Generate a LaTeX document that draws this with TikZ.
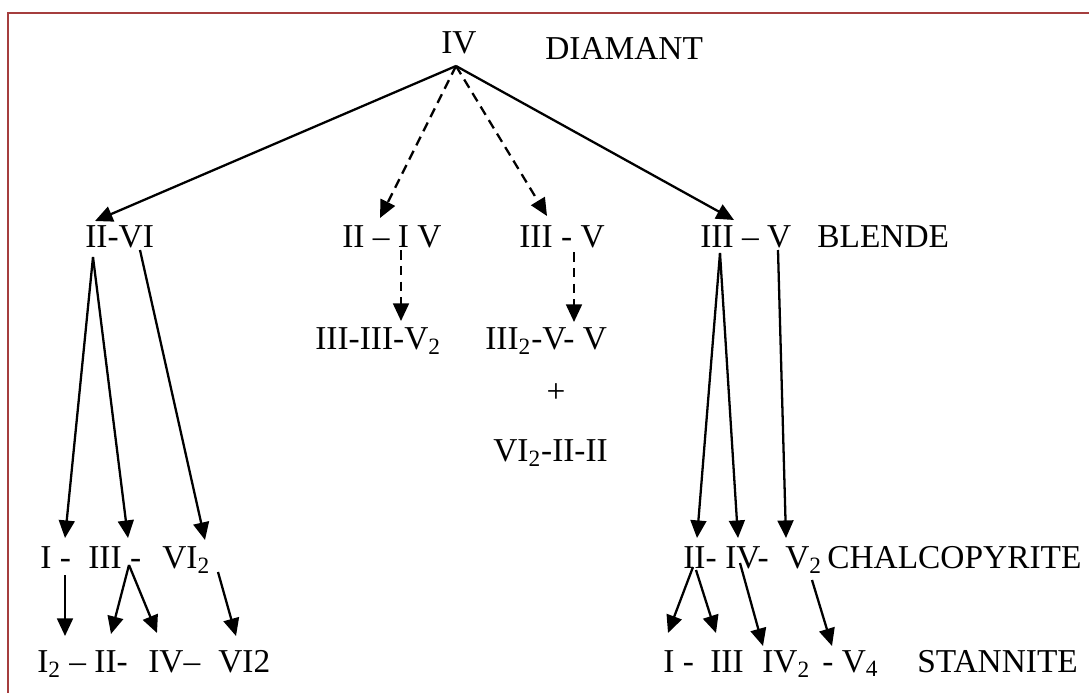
\documentclass[tikz,border=0pt]{standalone}
\usepackage{fontspec}
\setmainfont{Liberation Serif}
\usetikzlibrary{arrows.meta}
\definecolor{framered}{RGB}{165,62,62}
\tikzset{
  lbl/.style={anchor=base west, inner sep=0pt, font=\fontsize{19}{22}\selectfont},
  arr/.style={line width=1.3pt, -{Triangle[length=10pt,width=9pt]}},
  darr/.style={arr, dash pattern=on 5.5pt off 3.5pt}
}
\begin{document}
\begin{tikzpicture}[x=0.02cm, y=-0.02cm]
        \useasboundingbox (0,0) rectangle (1089,693);
        \draw[framered, line width=1.7pt] (8,693) -- (8,13) -- (1089,13);   % frame

        \node[lbl] (iv) at (441,53) {IV};
        \node[lbl] (dia) at (545,59) {DIAMANT};

        \node[lbl] (twosix) at (85,247) {II-VI};
        \node[lbl] (twoone) at (342,247) {II -- I V};
        \node[lbl] (threefive) at (519,247) {III - V};
        \node[lbl] (tfive) at (700,247) {III -- V};
        \node[lbl] (blende) at (817,247) {BLENDE};

        \node[lbl] (ttv) at (315,349) {III-III-V\textsubscript{2}};
        \node[lbl] (tvv) at (485,349) {III\textsubscript{2}-V- V};
        \node[lbl, anchor=center] (plus) at (556,393) {+};
        \node[lbl] (vitwo) at (493,461) {VI\textsubscript{2}-II-II};

        % chalcopyrite row
        \node[lbl] (la) at (40,568) {I -};
        \node[lbl] (lb) at (88,568) {III -};
        \node[lbl] (lc) at (162,568) {VI\textsubscript{2}};
        \node[lbl] (ra) at (683,568) {II-};
        \node[lbl] (rb) at (725,568) {IV-};
        \node[lbl] (rc) at (785,568) {V\textsubscript{2}};
        \node[lbl] (chal) at (827,568) {CHALCOPYRITE};

        % stannite row
        \node[lbl] (ma) at (37,672) {I\textsubscript{2} -- II-};
        \node[lbl] (mb) at (148,672) {IV--};
        \node[lbl] (mc) at (218,672) {VI2};
        \node[lbl] (sa) at (663,672) {I -};
        \node[lbl] (sb) at (710,672) {III};
        \node[lbl] (sc) at (762,672) {IV\textsubscript{2}};
        \node[lbl] (sd) at (822,672) {- V\textsubscript{4}};
        \node[lbl] (stan) at (917,672) {STANNITE};

        \draw[arr] ([shift={(15,13)}]iv.base west) -- ([shift={(10,-26)}]twosix.base west);
        \draw[darr] ([shift={(15,13)}]iv.base west) -- ([shift={(38,-29)}]twoone.base west);
        \draw[darr] ([shift={(15,13)}]iv.base west) -- ([shift={(28,-31)}]threefive.base west);
        \draw[arr] ([shift={(15,13)}]iv.base west) -- ([shift={(34,-27)}]tfive.base west);

        \draw[darr] ([shift={(59,3)}]twoone.base west) -- ([shift={(86,-28)}]ttv.base west);
        \draw[darr] ([shift={(55,5)}]threefive.base west) -- ([shift={(89,-27)}]tvv.base west);

        \draw[arr] ([shift={(8,10)}]twosix.base west) -- ([shift={(25,-30)}]la.base west);
        \draw[arr] ([shift={(8,10)}]twosix.base west) -- ([shift={(40,-30)}]lb.base west);
        \draw[arr] ([shift={(55,3)}]twosix.base west) -- ([shift={(43,-28)}]lc.base west);

        \draw[arr] ([shift={(20,6)}]tfive.base west) -- ([shift={(14,-30)}]ra.base west);
        \draw[arr] ([shift={(20,6)}]tfive.base west) -- ([shift={(13,-30)}]rb.base west);
        \draw[arr] ([shift={(78,3)}]tfive.base west) -- ([shift={(1,-30)}]rc.base west);

        \draw[arr] ([shift={(25,7)}]la.base west) -- ([shift={(28,-36)}]ma.base west);
        \draw[arr] ([shift={(41,-3)}]lb.base west) -- ([shift={(74,-38)}]ma.base west);
        \draw[arr] ([shift={(41,-3)}]lb.base west) -- ([shift={(9,-39)}]mb.base west);
        \draw[arr] ([shift={(56,4)}]lc.base west) -- ([shift={(18,-36)}]mc.base west);

        \draw[arr] ([shift={(10,-1)}]ra.base west) -- ([shift={(5,-39)}]sa.base west);
        \draw[arr] ([shift={(13,2)}]ra.base west) -- ([shift={(6,-39)}]sb.base west);
        \draw[arr] ([shift={(15,-5)}]rb.base west) -- ([shift={(1,-26)}]sc.base west);
        \draw[arr] ([shift={(27,12)}]rc.base west) -- ([shift={(10,-26)}]sd.base west);
\end{tikzpicture}
\end{document}
